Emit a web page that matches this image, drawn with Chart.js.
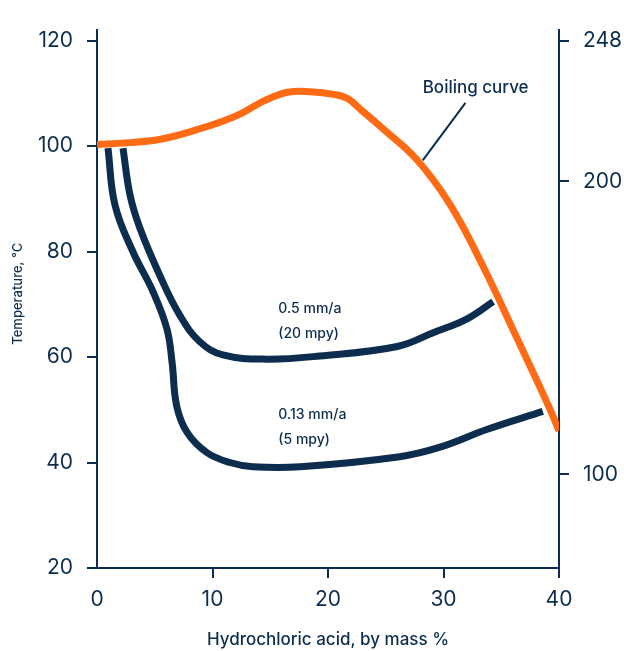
<!DOCTYPE html>
<html>
<head>
<meta charset="utf-8">
<script src="https://cdn.jsdelivr.net/npm/chart.js@4/dist/chart.umd.min.js"></script>
<style>
  html, body { margin: 0; padding: 0; background: #fff; }
  #wrap { width: 624px; height: 651px; position: relative; }
</style>
</head>
<body>
<div id="wrap"><canvas id="hclChart"></canvas></div>
<script>
// values
var boilingX = [0, 2.5, 5.5, 8.5, 11, 12.6, 14.5, 16.5, 18.5, 20.5, 21.7, 23, 24.7, 27.7, 30.6, 33.4, 36.4, 39.2, 40];
var boilingY = [100.3, 100.6, 101.3, 103, 104.8, 106.3, 108.6, 110.2, 110.3, 109.8, 109, 106.6, 103.4, 97.4, 88.8, 77.3, 63.4, 50.2, 46];

var rate05X = [2.25, 2.86, 3.72, 5.45, 7.2, 8.9, 10.9, 14.7, 19.3, 26.0, 29.1, 32.0, 34.3];
var rate05Y = [99.6, 90.7, 84.4, 75.4, 67.8, 62.9, 60.4, 59.6, 60.2, 62.0, 64.6, 67.2, 70.5];

var rate013X = [0.95, 1.56, 3.1, 4.85, 6.06, 6.5, 6.9, 7.8, 9.5, 11.5, 13.5, 17.6, 26.2, 29.7, 33.8, 38.6];
var rate013Y = [99.6, 88.8, 80.0, 72.4, 65.3, 59.0, 50.7, 45.7, 41.9, 40.0, 39.2, 39.2, 41.1, 42.9, 46.3, 49.7];

var xTicks = [0, 10, 20, 30, 40];
var leftTicksC = [20, 40, 60, 80, 100, 120];
var rightTicksF = [100, 200, 248];

var navy = "#0c2d4e";
var orange = "#ff6b14";
var font = "Inter, 'Liberation Sans', sans-serif";

function toPoints(xs, ys) {
  return xs.map(function (x, i) { return { x: x, y: ys[i] }; });
}

// text notes on the plot, placed in data units
var notes = [
  { text: "Boiling curve", x: 28.2, y: 111.1, size: 17 },
  { text: "0.5 mm/a", x: 15.7, y: 69.1, size: 14 },
  { text: "(20 mpy)", x: 15.7, y: 64.4, size: 14 },
  { text: "0.13 mm/a", x: 15.7, y: 49.1, size: 14 },
  { text: "(5 mpy)", x: 15.7, y: 44.4, size: 14 }
];
var leader = [{ x: 31.9, y: 108.2 }, { x: 28.2, y: 97.3 }];

var notesPlugin = {
  id: "notes",
  afterDatasetsDraw: function (chart) {
    var ctx = chart.ctx;
    var xs = chart.scales.x, ys = chart.scales.y;
    ctx.save();
    ctx.fillStyle = navy;
    ctx.textAlign = "left";
    ctx.textBaseline = "middle";
    notes.forEach(function (n) {
      ctx.font = "500 " + n.size + "px " + font;
      ctx.fillText(n.text, xs.getPixelForValue(n.x), ys.getPixelForValue(n.y));
    });
    ctx.strokeStyle = navy;
    ctx.lineWidth = 2;
    ctx.beginPath();
    ctx.moveTo(xs.getPixelForValue(leader[0].x), ys.getPixelForValue(leader[0].y));
    ctx.lineTo(xs.getPixelForValue(leader[1].x), ys.getPixelForValue(leader[1].y));
    ctx.stroke();

    // axis titles
    ctx.font = "500 13px " + font;
    ctx.textAlign = "center";
    ctx.save();
    ctx.translate(18, ys.getPixelForValue(72));
    ctx.rotate(-Math.PI / 2);
    ctx.fillText("Temperature, °C", 0, 0);
    ctx.restore();
    ctx.font = "500 17px " + font;
    ctx.fillText("Hydrochloric acid, by mass %", xs.getPixelForValue(20), 640);
    ctx.restore();
  }
};

function fixedTicks(list) {
  return function (scale) {
    scale.ticks = list.map(function (v) { return { value: v }; });
  };
}

new Chart(document.getElementById("hclChart").getContext("2d"), {
  type: "line",
  data: {
    datasets: [
      { data: toPoints(boilingX, boilingY), borderColor: orange, borderWidth: 7 },
      { data: toPoints(rate05X, rate05Y), borderColor: navy, borderWidth: 7 },
      { data: toPoints(rate013X, rate013Y), borderColor: navy, borderWidth: 7 }
    ]
  },
  options: {
    responsive: true,
    maintainAspectRatio: false,
    animation: false,
    layout: { padding: { top: 30, left: 0, right: 0, bottom: 0 } },
    elements: {
      point: { radius: 0 },
      line: { tension: 0.4, fill: false, borderCapStyle: "butt", borderJoinStyle: "round" }
    },
    plugins: { legend: { display: false }, tooltip: { enabled: false } },
    scales: {
      x: {
        type: "linear",
        min: 0,
        max: 40,
        afterBuildTicks: fixedTicks(xTicks),
        afterFit: function (s) { s.height = 83; },
        border: { display: true, color: navy, width: 2 },
        grid: {
          drawOnChartArea: false,
          tickLength: 10,
          lineWidth: 2,
          tickColor: function (c) { return c.tick && c.tick.value === 0 ? "rgba(0,0,0,0)" : navy; }
        },
        ticks: { color: navy, font: { family: font, size: 21 }, padding: 9 }
      },
      y: {
        type: "linear",
        position: "left",
        min: 20,
        max: 122,
        afterBuildTicks: fixedTicks(leftTicksC),
        afterFit: function (s) { s.width = 97; },
        border: { display: true, color: navy, width: 2 },
        grid: { drawOnChartArea: false, tickLength: 10, lineWidth: 2, tickColor: navy },
        ticks: { color: navy, font: { family: font, size: 21 }, padding: 14 }
      },
      y2: {
        type: "linear",
        position: "right",
        min: 68,
        max: 251.6,
        afterBuildTicks: fixedTicks(rightTicksF),
        afterFit: function (s) { s.width = 65; },
        border: { display: true, color: navy, width: 2 },
        grid: { drawOnChartArea: false, tickLength: 10, lineWidth: 2, tickColor: navy },
        ticks: { color: navy, font: { family: font, size: 21 }, padding: 14 }
      }
    }
  },
  plugins: [notesPlugin]
});
</script>
</body>
</html>
